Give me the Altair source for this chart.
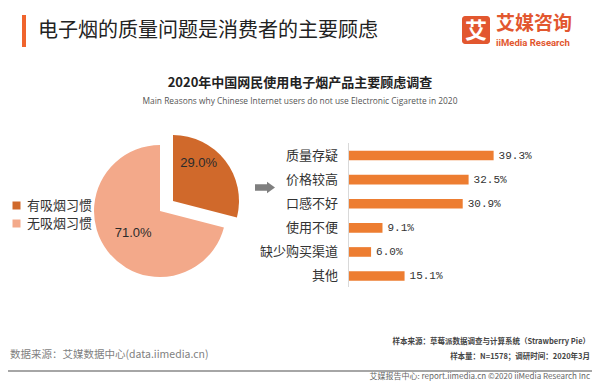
import altair as alt
import pandas as pd

# ---------------- data ----------------
pie_cats = ["有吸烟习惯", "无吸烟习惯"]
pie_vals = [29.0, 71.0]
pie_labels = ["29.0%", "71.0%"]
pie_order = [0, 1]
pie_colors = ["#D0692B", "#F3A98A"]

bar_cats = ["质量存疑", "价格较高", "口感不好", "使用不便", "缺少购买渠道", "其他"]
bar_vals = [39.3, 32.5, 30.9, 9.1, 6.0, 15.1]
bar_labels = ["39.3%", "32.5%", "30.9%", "9.1%", "6.0%", "15.1%"]

page_title = "电子烟的质量问题是消费者的主要顾虑"
chart_title = "2020年中国网民使用电子烟产品主要顾虑调查"
chart_subtitle = "Main Reasons why Chinese Internet users do not use Electronic Cigarette in 2020"
logo_char = "艾"
logo_cn = "艾媒咨询"
logo_en = "iiMedia Research"
source_left = "数据来源：艾媒数据中心(data.iimedia.cn)"
source_right1 = "样本来源：草莓派数据调查与计算系统（Strawberry Pie）"
source_right2 = "样本量：N=1578；调研时间：2020年3月"
footer_text = "艾媒报告中心: report.iimedia.cn  ©2020  iiMedia Research Inc"

CJK = "Noto Sans CJK SC"
W, H = 584, 374

pie_df = pd.DataFrame({"cat": pie_cats, "val": pie_vals, "label": pie_labels, "idx": pie_order})
bar_df = pd.DataFrame({"cat": bar_cats, "val": bar_vals, "label": bar_labels})
one = pd.DataFrame({"k": [0]})


def txt(s, x, y, size, color="#333333", align="left", baseline="middle", weight="normal", font=CJK):
    return alt.Chart(one).mark_text(
        text=s, fontSize=size, color=color, align=align, baseline=baseline,
        fontWeight=weight, font=font
    ).encode(x=alt.value(x), y=alt.value(y))


# ---------------- header ----------------
header_bar = alt.Chart(one).mark_rect(color="#F0642D").encode(
    x=alt.value(14), x2=alt.value(18), y=alt.value(7), y2=alt.value(39))
header_title = txt(page_title, 30, 23, 20, color="#222222")

logo_box = alt.Chart(one).mark_rect(color="#E2572F", cornerRadius=3).encode(
    x=alt.value(454), x2=alt.value(482), y=alt.value(8), y2=alt.value(36))
logo_c = txt(logo_char, 468, 22.5, 22, color="white", align="center", weight="bold")
logo_t1 = txt(logo_cn, 488, 15.5, 19, color="#E2572F", weight="bold")
logo_t2 = txt(logo_en, 488, 35, 9.5, color="#E2572F", weight="bold", font="Roboto")

ctitle = txt(chart_title, 292, 75, 13, color="#222222", align="center", weight="bold")
csub = txt(chart_subtitle, 292, 93, 8.4, color="#555555", align="center", font="Open Sans")

# ---------------- pie ----------------
theta = alt.Theta("val:Q", stack=True)
order = alt.Order("idx:Q")
color = alt.Color(
    "cat:N",
    scale=alt.Scale(domain=pie_cats, range=pie_colors),
    legend=alt.Legend(
        title=None, orient="none", legendX=2, legendY=191,
        labelFontSize=13, labelFont=CJK, labelColor="#333333",
        symbolType="square", symbolSize=64, symbolStrokeWidth=0,
        rowPadding=4, labelOffset=4, padding=0,
    ),
)


def pie_layer(cx, cy, which):
    return alt.Chart(pie_df).mark_arc(outerRadius=66).encode(
        theta=theta, color=color, order=order,
        x=alt.value(cx), y=alt.value(cy),
        opacity=alt.condition(alt.datum.cat == which, alt.value(1), alt.value(0)),
    )


def pie_text(cx, cy, which, r, dx, dy):
    return alt.Chart(pie_df).mark_text(
        radius=r, dx=dx, dy=dy, fontSize=13, font="Liberation Sans", color="#2B2B2B"
    ).encode(
        theta=theta, order=order, detail="cat:N", text="label:N",
        x=alt.value(cx), y=alt.value(cy),
        opacity=alt.condition(alt.datum.cat == which, alt.value(1), alt.value(0)),
    )


pie_dark = pie_layer(165, 193, pie_cats[0])
pie_light = pie_layer(152, 203, pie_cats[1])
lab_dark = pie_text(165, 193, pie_cats[0], 40, -6, -13)
lab_light = pie_text(152, 203, pie_cats[1], 34, 0, 1)

arrow = alt.Chart(one).mark_point(
    shape="M-1,-0.32L0.2,-0.32L0.2,-0.58L1,0L0.2,0.58L0.2,0.32L-1,0.32Z",
    filled=True, color="#7F7F7F", size=400, opacity=1, strokeWidth=0,
).encode(x=alt.value(257), y=alt.value(179.5))

# ---------------- bars ----------------
xs = alt.Scale(domain=[0, 40], range=[341, 488.2], nice=False, zero=True)
ys = alt.Scale(domain=bar_cats, range=[135.5, 280.1], paddingInner=0.6, paddingOuter=0.3)
X = alt.X("val:Q", scale=xs, axis=None)
Y = alt.Y("cat:N", scale=ys, axis=None, sort=bar_cats)

bars = alt.Chart(bar_df).mark_bar(color="#ED7D31").encode(x=X, y=Y)
bar_vals_txt = alt.Chart(bar_df).mark_text(
    align="left", dx=5, fontSize=11, font="Liberation Mono", color="#333333"
).encode(x=X, y=Y, text="label:N")
bar_cat_txt = alt.Chart(bar_df).mark_text(
    align="right", fontSize=13, font=CJK, color="#333333"
).encode(x=alt.value(330), y=Y, text="cat:N")
axis_line = alt.Chart(one).mark_rule(color="#D9D9D9", strokeWidth=1).encode(
    x=alt.value(340.5), y=alt.value(135), y2=alt.value(279))

# ---------------- footer ----------------
src_l = txt(source_left, 2, 347, 10.5, color="#7F7F7F")
src_r1 = txt(source_right1, 582, 334, 7.5, color="#444444", align="right", weight="bold")
src_r2 = txt(source_right2, 582, 349, 7.5, color="#444444", align="right", weight="bold")
sep = alt.Chart(one).mark_rule(color="#A6A6A6", strokeWidth=2).encode(
    x=alt.value(0), x2=alt.value(W), y=alt.value(363))
foot = txt(footer_text, 582, 373, 8, color="#666666", align="right", baseline="bottom")

chart = alt.layer(
    header_bar, header_title, logo_box, logo_c, logo_t1, logo_t2,
    ctitle, csub,
    pie_light, pie_dark, lab_light, lab_dark, arrow,
    axis_line, bars, bar_vals_txt, bar_cat_txt,
    src_l, src_r1, src_r2, sep, foot,
).properties(
    width=W, height=H, padding=0, autosize=alt.AutoSizeParams(type="none"),
    background="white",
).configure_view(stroke=None)

chart.save("out.html", embed_options={"renderer": "svg", "actions": False})
